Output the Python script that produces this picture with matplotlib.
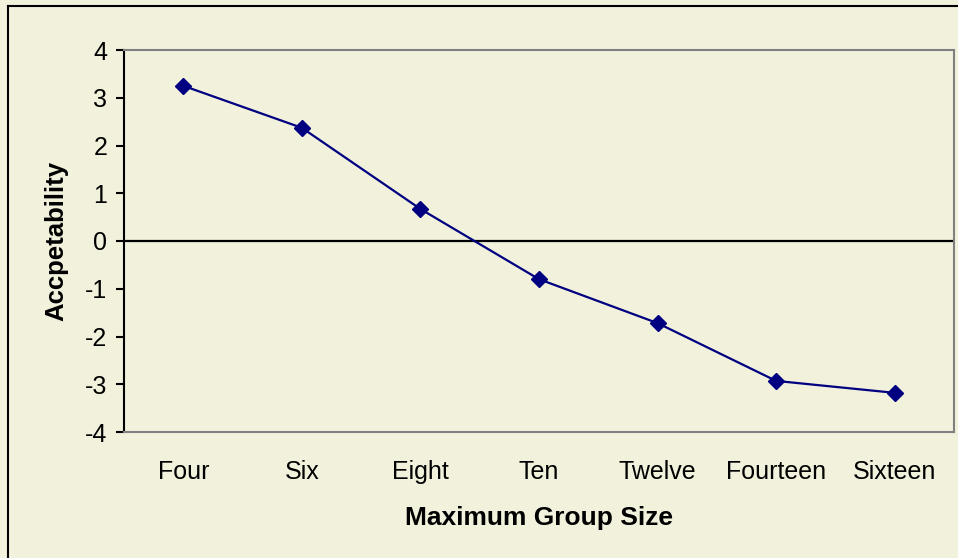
import matplotlib
matplotlib.use('Agg')
from matplotlib import pyplot as plt
from matplotlib.lines import Line2D

# data
categories = ['Four', 'Six', 'Eight', 'Ten', 'Twelve', 'Fourteen', 'Sixteen']
acceptability = [3.25, 2.37, 0.67, -0.80, -1.72, -2.93, -3.18]
y_ticks = [-4, -3, -2, -1, 0, 1, 2, 3, 4]

BG = '#F2F1DC'
NAVY = '#000080'

plt.rcParams['font.family'] = ['Liberation Sans', 'DejaVu Sans']

fig = plt.figure(figsize=(9.58, 5.58), dpi=100, facecolor=BG)
ax = fig.add_axes([124 / 958, 1 - 432 / 558, 830 / 958, 382 / 558])
ax.set_facecolor(BG)

x = list(range(len(categories)))
ax.plot(x, acceptability, color=NAVY, lw=1.6, marker='D', ms=8.5,
        markerfacecolor=NAVY, markeredgecolor=NAVY)
ax.axhline(0, color='black', lw=1.6, zorder=1)

ax.set_xlim(-0.5, len(categories) - 0.5)
ax.set_ylim(-4, 4)
ax.set_yticks(y_ticks)
ax.set_yticklabels([str(v) for v in y_ticks], fontsize=18)
ax.set_xticks(x)
ax.set_xticklabels(categories, fontsize=18)
ax.tick_params(axis='x', length=0, pad=20)
ax.tick_params(axis='y', length=6, width=1.5, direction='out', pad=6)

for side in ['top', 'right', 'bottom']:
    ax.spines[side].set_color('#808080')
    ax.spines[side].set_linewidth(1.5)
ax.spines['left'].set_color('black')
ax.spines['left'].set_linewidth(1.5)

ax.set_xlabel('Maximum Group Size', fontsize=19, fontweight='bold', labelpad=16)
ax.set_ylabel('Accpetability', fontsize=18.5, fontweight='bold', labelpad=12)

# outer chart border (top and left visible)
fig.add_artist(Line2D([8 / 958, 8 / 958], [0, 1 - 6 / 558], transform=fig.transFigure,
                      color='black', lw=1.5))
fig.add_artist(Line2D([8 / 958, 1], [1 - 6 / 558, 1 - 6 / 558], transform=fig.transFigure,
                      color='black', lw=1.5))

fig.savefig('out.png', dpi=100, facecolor=BG)
